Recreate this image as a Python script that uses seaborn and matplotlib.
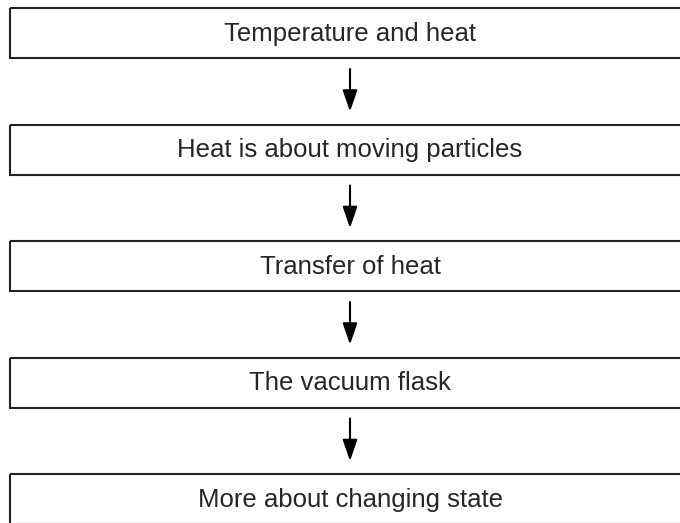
import matplotlib
matplotlib.use("Agg")
import matplotlib.pyplot as plt
from matplotlib.patches import Rectangle
import seaborn as sns

steps = [
    "Temperature and heat",
    "Heat is about moving particles",
    "Transfer of heat",
    "The vacuum flask",
    "More about changing state",
]

sns.set_theme(style="white")
plt.rcParams["font.family"] = ["Liberation Sans", "DejaVu Sans"]

fig = plt.figure(figsize=(6.8, 5.23), dpi=100)
ax = fig.add_axes([0, 0, 1, 1])
ax.set_xlim(0, 680)
ax.set_ylim(523, 0)
ax.axis("off")

# layout in pixel units
left, width = 10, 680
top0, height, step = 8, 50, 116.5
arrow_x = 350

for i, label in enumerate(steps):
    top = top0 + i * step
    ax.add_patch(Rectangle((left, top), width, height, fill=False,
                           edgecolor="#222222", linewidth=1.5))
    ax.text(left + width / 2, top + height / 2 + 1, label,
            ha="center", va="center", fontsize=18.5, color="#262626")
    if i < len(steps) - 1:
        ax.annotate("", xy=(arrow_x, top + step - 13), xytext=(arrow_x, top + height + 11),
                    arrowprops=dict(arrowstyle="-|>,head_length=1.3,head_width=0.45",
                                    mutation_scale=10, shrinkA=0, shrinkB=0,
                                    color="black", linewidth=1.5))

fig.savefig("out.png", dpi=100)
